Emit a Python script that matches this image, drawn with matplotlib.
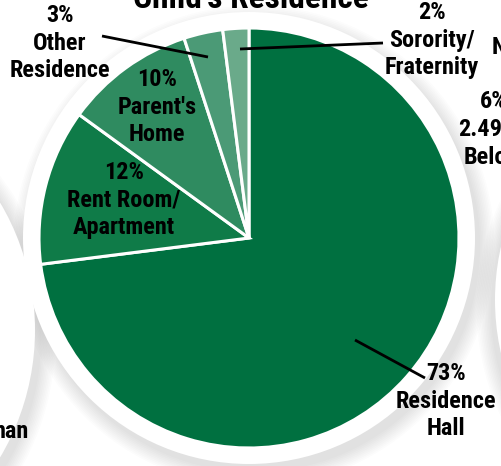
import matplotlib
matplotlib.use("Agg")
import matplotlib.pyplot as plt
from matplotlib.patches import Circle

# ---- data ----
categories = ["Residence\nHall", "Rent Room/\nApartment", "Parent's\nHome", "Other\nResidence", "Sorority/\nFraternity"]
shares = [73, 12, 10, 3, 2]
colors = ["#007040", "#0f7b48", "#2f8b60", "#4b9a76", "#6aaa8a"]
title = "Child's Residence"
edge_texts_right = ["N", "6%", "2.49", "Belo"]
edge_text_left = "nan"

W, H = 501, 466
fig = plt.figure(figsize=(W / 100, H / 100), dpi=100)
ax = fig.add_axes([0, 0, 1, 1])
ax.set_xlim(0, W)
ax.set_ylim(0, H)
ax.axis("off")

FONT = ["Roboto Condensed", "Archivo Narrow", "Barlow Condensed", "PT Sans Narrow",
        "Liberation Sans Narrow", "DejaVu Sans"]

def Y(py):
    return H - py

cx, cy, r = 249, Y(238), 210

# soft shadows behind white discs (subtle)
discs = [((cx, cy), 226, (5, -8)), ((-215, Y(330)), 250, (6, -8)), ((735, Y(300)), 240, (-4, -8))]
for (x, y), rad, (ox, oy) in discs:
    for k in range(10):
        ax.add_patch(Circle((x + ox, y + oy), rad + k * 1.6, color="#7a7a7a",
                            alpha=0.018, lw=0, zorder=0))
for (x, y), rad, _ in discs:
    ax.add_patch(Circle((x, y), rad, color="white", lw=0, zorder=1))

wedges, _ = ax.pie(shares, colors=colors, startangle=90, counterclock=False,
                   center=(cx, cy), radius=r, frame=False,
                   wedgeprops=dict(edgecolor="white", linewidth=2.2))
for w in wedges:
    w.set_zorder(2)
ax.set_xlim(0, W)
ax.set_ylim(0, H)
ax.set_aspect("equal")

fs = 17.5
tkw = dict(fontsize=fs, fontweight="bold", family=FONT, ha="center", va="center",
           linespacing=1.24, color="black", zorder=5)

labels = [f"{v}%\n{c}" for v, c in zip(shares, categories)]
positions = [(446, 401), (124, 200), (157, 107), (60, 43), (432, 40)]
for lab, (px, py) in zip(labels, positions):
    ax.text(px, Y(py), lab, **tkw)

# leader lines
lines = [((355, 340), (425, 378)), ((102, 36), (208, 57)), ((240, 49), (383, 43))]
for (x0, y0), (x1, y1) in lines:
    ax.plot([x0, x1], [Y(y0), Y(y1)], color="black", lw=2, zorder=4, solid_capstyle="butt")

# title (cut at top)
ax.text(251, Y(8), title, fontsize=24, fontweight="bold", family=FONT,
        ha="center", va="baseline", zorder=5)

# partial neighbouring texts
ekw = dict(fontsize=fs, fontweight="bold", family=FONT, va="center", zorder=5)
ax.text(492, Y(47), edge_texts_right[0], ha="left", **ekw)
ax.text(480, Y(102), edge_texts_right[1], ha="left", **ekw)
ax.text(458, Y(130), edge_texts_right[2], ha="left", **ekw)
ax.text(464, Y(158), edge_texts_right[3], ha="left", **ekw)
ax.text(29, Y(432), edge_text_left, ha="right", **ekw)

fig.savefig("out.png", dpi=100)
